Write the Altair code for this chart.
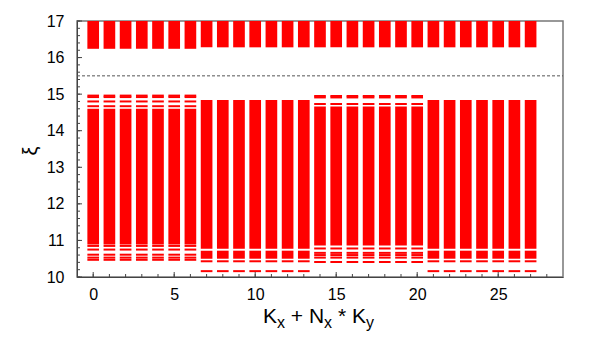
import altair as alt
import pandas as pd

# ---------------- data ----------------
k_values = list(range(28))
k_type = ["A"] * 7 + ["B"] * 7 + ["C"] * 7 + ["B"] * 7

# dense (quasi-continuous) blocks of levels: (low, high) per sector type
bands = {
    "A": [(10.89, 14.60), (16.24, 17.0)],
    "B": [(10.77, 14.84), (10.50, 10.72), (16.28, 17.0)],
    "C": [(10.86, 14.66), (16.28, 17.0)],
}
# isolated levels per sector type
lines = {
    "A": [14.96, 14.92, 14.80, 14.67, 10.85, 10.75, 10.61, 10.53, 10.47],
    "B": [10.43, 10.16],
    "C": [14.95, 14.91, 14.73, 10.78, 10.66, 10.60, 10.53, 10.41],
}
gap_level = 15.5

x_ticks = [0, 5, 10, 15, 20, 25]
x_minor = list(range(0, 29))
y_ticks = [10, 11, 12, 13, 14, 15, 16, 17]
y_minor = [round(10 + 0.2 * i, 1) for i in range(36)]

# ---------------- layout / style ----------------
W, H = 486, 256
HALF = 0.36
RED = "#ff0000"
FONT = "Liberation Sans"

band_rows = []
line_rows = []
for k, t in zip(k_values, k_type):
    for lo, hi in bands[t]:
        band_rows.append({"k": k, "lo": lo, "hi": hi})
    for lv in lines[t]:
        line_rows.append({"k": k, "level": lv})
band_df = pd.DataFrame(band_rows)
line_df = pd.DataFrame(line_rows)

xs = alt.Scale(domain=[-1, 29], nice=False, zero=False)
ys = alt.Scale(domain=[10, 17], nice=False, zero=False)

xaxis = alt.Axis(values=x_ticks, grid=False, tickSize=0, labelFontSize=16,
                 labelFont=FONT, labelColor="black", labelPadding=9,
                 labelOverlap=False, domainColor="#444", title=None)
yaxis = alt.Axis(values=y_ticks, grid=False, tickSize=0, labelFontSize=16,
                 labelFont=FONT, labelColor="black", labelPadding=13,
                 labelOverlap=False, labelFlush=False, domainColor="#444",
                 title=None)


def X(field):
    return alt.X(field, scale=xs, axis=xaxis)


def Y(field):
    return alt.Y(field, scale=ys, axis=yaxis)


band_layer = alt.Chart(band_df).transform_calculate(
    xl=f"datum.k - {HALF}", xr=f"datum.k + {HALF}"
).mark_rect(color=RED).encode(
    x=X("xl:Q"), x2="xr:Q", y=Y("lo:Q"), y2="hi:Q",
)

line_layer = alt.Chart(line_df).transform_calculate(
    xl=f"datum.k - {HALF}", xr=f"datum.k + {HALF}"
).mark_rule(color=RED, strokeWidth=2).encode(
    x=X("xl:Q"), x2="xr:Q", y=Y("level:Q"),
)

dash_layer = alt.Chart(pd.DataFrame({"y": [gap_level]})).mark_rule(
    color="#555", strokeWidth=1, strokeDash=[3, 2]
).encode(y=Y("y:Q"), x=alt.value(0), x2=alt.value(W))

# inward ticks
xmaj = alt.Chart(pd.DataFrame({"x": x_ticks})).mark_rule(color="#444").encode(
    x=X("x:Q"), y=alt.value(H), y2=alt.value(H - 5))
xmin = alt.Chart(pd.DataFrame({"x": x_minor})).mark_rule(color="#444").encode(
    x=X("x:Q"), y=alt.value(H), y2=alt.value(H - 3))
ymaj = alt.Chart(pd.DataFrame({"y": y_ticks})).mark_rule(color="#444").encode(
    y=Y("y:Q"), x=alt.value(0), x2=alt.value(5))
ymin = alt.Chart(pd.DataFrame({"y": y_minor})).mark_rule(color="#444").encode(
    y=Y("y:Q"), x=alt.value(0), x2=alt.value(3))

# x title with subscripts: K_x + N_x * K_y
pieces = [
    ("K", 186, 302, 21), ("x", 200, 307, 16), ("+", 213.8, 302, 21),
    ("N", 231.9, 302, 21), ("x", 247.1, 307, 16), ("*", 260.9, 302, 21),
    ("K", 274.9, 302, 21), ("y", 288.9, 307, 16),
]
title_layers = [
    alt.Chart(pd.DataFrame({"t": [s]})).mark_text(
        align="left", baseline="alphabetic", font=FONT, fontSize=fs, color="black"
    ).encode(text="t:N", x=alt.value(px), y=alt.value(py))
    for s, px, py, fs in pieces
]
ylab = alt.Chart(pd.DataFrame({"t": ["ξ"]})).mark_text(
    align="center", baseline="middle", font=FONT, fontSize=20, angle=270,
    color="black"
).encode(text="t:N", x=alt.value(-46), y=alt.value(130))

chart = alt.layer(
    band_layer, line_layer, dash_layer, xmaj, xmin, ymaj, ymin, ylab, *title_layers
).properties(
    width=W, height=H,
    autosize=alt.AutoSizeParams(type="none"),
    padding={"left": 69, "top": 13, "right": 20, "bottom": 60},
    background="white",
).configure_view(stroke="#777", strokeWidth=1.5)

chart.save("out.html", embed_options={"renderer": "svg", "actions": False})
